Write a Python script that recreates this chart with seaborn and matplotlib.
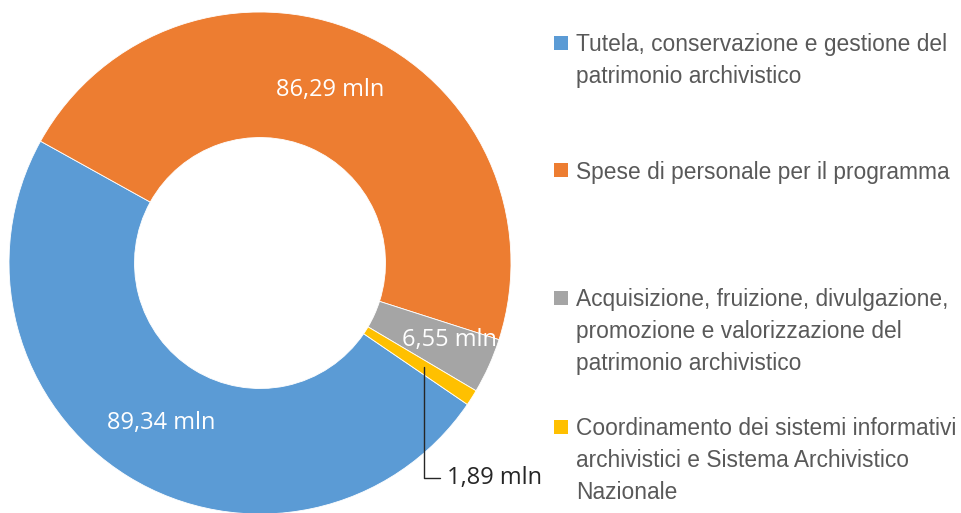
import numpy as np
import matplotlib
matplotlib.use("Agg")
import matplotlib.pyplot as plt
from matplotlib.patches import Rectangle
import seaborn as sns

# ── Data ──────────────────────────────────────────────────────────────
CATEGORIES = [
    "Tutela, conservazione e gestione del\npatrimonio archivistico",
    "Spese di personale per il programma",
    "Acquisizione, fruizione, divulgazione,\npromozione e valorizzazione del\npatrimonio archivistico",
    "Coordinamento dei sistemi informativi\narchivistici e Sistema Archivistico\nNazionale",
]
VALUES = [89.34, 86.29, 6.55, 1.89]
VALUE_LABELS = ["89,34 mln", "86,29 mln", "6,55 mln", "1,89 mln"]
COLORS = ["#5B9BD5", "#ED7D31", "#A5A5A5", "#FFC000"]

# ── Style ─────────────────────────────────────────────────────────────
sns.set_theme(style="white")
plt.rcParams["font.family"] = ["Liberation Sans", "DejaVu Sans"]
palette = sns.color_palette(COLORS)

W, H = 962, 513
fig = plt.figure(figsize=(W / 100, H / 100), dpi=100)

# donut: centre (260, 263) px, outer radius 251 px
cx, cy, R = 260, 263, 251
ax = fig.add_axes([(cx - R) / W, (H - cy - R) / H, 2 * R / W, 2 * R / H])
wedges, _ = ax.pie(VALUES, colors=palette, startangle=-34.3, counterclock=False,
                   radius=1.0, wedgeprops=dict(width=0.5, edgecolor="white", linewidth=0.6))
ax.set_xlim(-1, 1)
ax.set_ylim(-1, 1)
ax.set_aspect("equal")
ax.axis("off")

# value labels inside the ring (white), small slice annotated outside
label_font = dict(family=["Open Sans", "DejaVu Sans"], fontsize=17)
offsets = [(0, 0), (-0.02, 0), (0.07, 0)]
for w, lab, (dx, dy) in zip(wedges[:3], VALUE_LABELS[:3], offsets):
    ang = np.deg2rad((w.theta1 + w.theta2) / 2)
    ax.text(0.75 * np.cos(ang) + dx, 0.75 * np.sin(ang) + dy, lab,
            color="white", ha="center", va="center", **label_font)

yw = wedges[3]
ang = np.deg2rad((yw.theta1 + yw.theta2) / 2)
ax.annotate(VALUE_LABELS[3], xy=(0.775 * np.cos(ang), 0.775 * np.sin(ang)),
            xytext=(0.745, -0.855), ha="left", va="center", color="#262626",
            arrowprops=dict(arrowstyle="-", color="#262626", lw=1.0,
                            shrinkA=3, shrinkB=0,
                            connectionstyle="angle,angleA=180,angleB=90,rad=0"),
            **label_font)

# ── Legend (Excel-style, right side) ──────────────────────────────────
legend_x = 576
line_step = 31.5
legend_baselines = [52, 179, 307, 436]   # baseline of first line, px from top
for lab, col, base in zip(CATEGORIES, palette, legend_baselines):
    n = lab.count("\n")
    # matplotlib aligns the last line's baseline for multi-line text
    fig.text(legend_x / W, 1 - (base + n * line_step) / H, lab, ha="left",
             va="baseline", fontsize=16.4, color="#595959", linespacing=1.5)
    sq = 14
    fig.add_artist(Rectangle((554 / W, 1 - (base - 9 + sq / 2) / H), sq / W, sq / H,
                             transform=fig.transFigure, facecolor=col, edgecolor="none"))

fig.savefig("out.png", dpi=100)
